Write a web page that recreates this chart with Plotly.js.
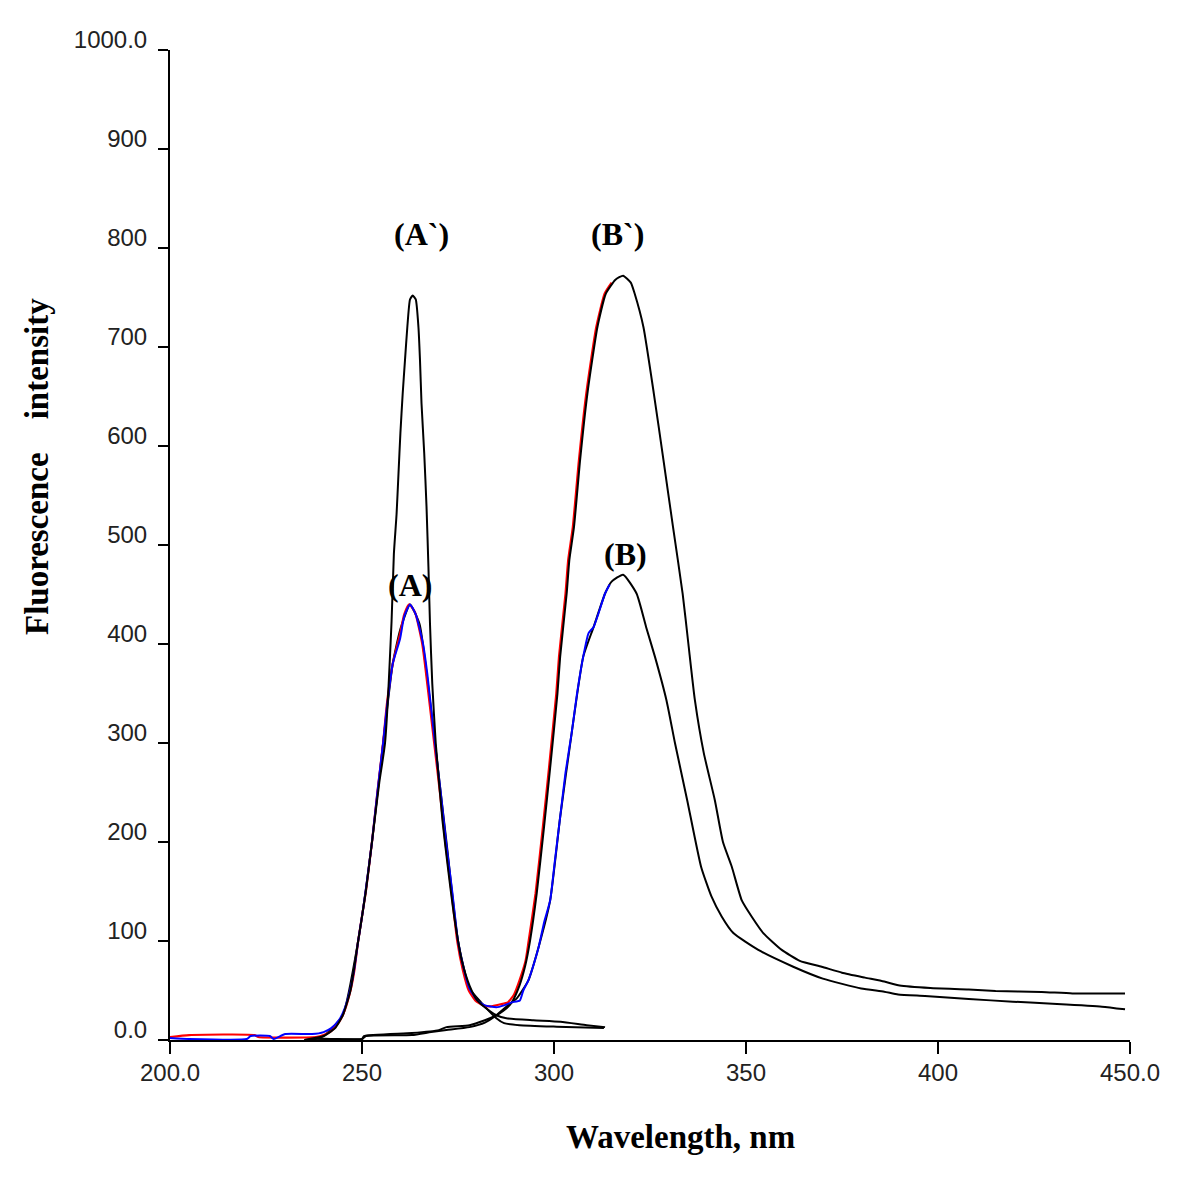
<!DOCTYPE html>
<html>
<head>
<meta charset="utf-8">
<script src="https://cdn.plot.ly/plotly-3.0.1.min.js"></script>
<style>html,body{margin:0;padding:0;background:#fff;}#chart{width:1200px;height:1179px;}</style>
</head>
<body>
<div id="chart"></div>
<script>
// Red measured spectrum (mixture with B`)
const redX = [200,205,222,223,238,240,242,244,245.5,247,248,249,250,251,252.6,254,255.5,256.5,258,259.9,261,262.3,263.8,265.7,267.3,268.8,270.3,271.7,273.3,274.8,276.3,277.8,279.5,281.5,283.5,286,288,289.6,291,292.6,293.4,295.2,297.1,298.7,300.6,301.3,303,303.7,304.9,306.5,308.4,311,313.2,315];
const redY = [3,5,5,3,3,5,9,18,30,50,70,100,125,150,200,250,300,340,380,410,430,440,432,400,350,300,250,200,150,100,70,50,40,35,34,36,38,46,60,80,100,148,215,275,350,387,451,485,518,586,653,720,754,765];

// Blue measured spectrum (mixture with B)
const blueX = [200,205,220,221,226,227,230,237,240,242,244,245.5,247,248,249,250.2,251,252.6,254,255.5,256.3,258,259.9,261,262.5,264,265.9,267,269,270.5,271.9,273.5,275,276.5,278,280,282,285,287,289,291.1,292,293.3,295,296,297.5,299,300.2,301.6,303,304.6,306,307.6,309,310.3,311.5,313.3,314.5];
const blueY = [2,1,1,4,4,1,6,6,8,12,20,32,52,72,100,130,152,200,250,300,330,380,405,428,440,430,400,370,300,250,200,150,100,72,52,40,35,33,35,38,40,50,60,80,94,120,141,180,225,270,310,350,387,411,417,430,451,460];

// Black reference spectrum A
const aX = [235,240,245,249,252.6,255.5,258,260,262.5,265,267,269,272,275,278,281,285,287,291,300.7,313];
const aY = [0,4,25,100,200,300,380,415,440,420,365,300,200,100,52,38,22,17,15,13.5,12];

// Black reference spectrum A`
const apX = [235,240,243,245,247,249,251,252.6,254.5,256,257.7,258.3,259,259.5,260,260.6,261.2,261.8,262.5,263.2,264,264.7,265.1,265.5,266.2,266.8,267.3,267.7,268.3,269.2,271,272.5,274,276,278,280,283,285,287.6,294.6,301.7,308.5,313.3];
const apY = [0,4,12,25,50,100,150,200,260,300,423,491,531,572,613,653,687,720,748,752,748,720,687,643,593,539,478,421,360,300,220,170,125,80,55,40,30,25,22,20,18.5,15,13];

// Black reference spectrum B`
const bpX = [233,236.5,237,250,250.5,263,270,272,278,282,285,287,289,291,292.5,293.75,295.5,297.4,299,300.9,301.6,303.3,304,305.2,306.8,308.7,311.3,313.5,316,318,320,321,323.3,326,328.5,331,333.5,335,336.7,339,341.9,344,346.3,348.9,351.5,354.5,359.3,364,369.7,375,381,386,390,398,408,415,427,435,448.7];
const bpY = [-1,-1,1,1,4,7,10,13,15,20,25,30,38,55,75,100,148,215,275,350,387,451,485,518,586,653,720,754,768,772,765,754,720,653,586,518,451,400,343,290,242,200,175,141,124.5,108,91,80,74,68,63,59,55,52.5,51,49.5,48.5,47,47];

// Black reference spectrum B
const bX = [233,236.5,237,250,251,263,268,272,278,282,285,288,290.3,293.3,296,299,301.6,304.6,307.6,310.3,313.3,315,318,321.5,324,326.3,329.3,331.5,334.7,338.3,341,343.7,346.7,353.2,362.3,370,380,386,389.6,396.6,408,419.5,431,442.7,448.7];
const bY = [-1,-1,1,1,4,5,8,10,13,17.5,25,35,42,60,94,141,225,310,387,417,451,463,470,451,417,387,343,300,242,175,145,124.5,108,91,74,62,52,48.8,46,44.4,41.4,38.7,36.4,33.7,31];

// Tick labels
const xTickVals = [200,250,300,350,400,450];
const xTickText = ["200.0","250","300","350","400","450.0"];
const yTickVals = [0,100,200,300,400,500,600,700,800,900,1000];
const yTickText = ["0.0","100","200","300","400","500","600","700","800","900","1000.0"];

// Peak labels
const peakLabels = ["(A`)","(B`)","(B)","(A)"];
const peakLabelX = [265.6,316.5,318.5,262.6];
const peakLabelY = [814,814,491,460];

const mk = (x, y, color, w) => ({x: x, y: y, type: 'scatter', mode: 'lines',
  line: {color: color, width: w, shape: 'spline', smoothing: 0.5}, hoverinfo: 'skip', showlegend: false});

const data = [
  mk(aX, aY, '#000000', 2),
  mk(redX, redY, '#ff0000', 2.2),
  mk(bpX, bpY, '#000000', 2),
  mk(bX, bY, '#000000', 2),
  mk(blueX, blueY, '#0000ff', 2),
  mk(apX, apY, '#000000', 2)
];

const annFont = {family: 'Liberation Serif, Times New Roman, serif', size: 32, color: '#000'};
const annotations = peakLabels.map((t, i) => ({
  x: peakLabelX[i], y: peakLabelY[i], xref: 'x', yref: 'y', text: '<b>' + t + '</b>',
  showarrow: false, xanchor: 'center', yanchor: 'middle', font: annFont
}));
annotations.push({
  xref: 'paper', yref: 'paper', x: -0.1385, y: 0.5788, xanchor: 'center', yanchor: 'middle',
  textangle: -90, showarrow: false,
  text: '<b>Fluorescence\u00a0\u00a0\u00a0\u00a0intensity</b>',
  font: {family: 'Liberation Serif, Times New Roman, serif', size: 33, color: '#000'}
});
annotations.push({
  xref: 'paper', yref: 'paper', x: 0.532, y: -0.098, xanchor: 'center', yanchor: 'middle',
  showarrow: false, text: '<b>Wavelength, nm</b>',
  font: {family: 'Liberation Serif, Times New Roman, serif', size: 33, color: '#000'}
});

const tickFont = {family: 'Liberation Sans, Arial, sans-serif', size: 24, color: '#222'};

const layout = {
  width: 1200, height: 1179,
  margin: {l: 170, r: 70, t: 50, b: 139},
  paper_bgcolor: '#ffffff', plot_bgcolor: '#ffffff',
  showlegend: false,
  xaxis: {
    range: [200, 450], showgrid: false, zeroline: false,
    showline: true, linecolor: '#000', linewidth: 2,
    ticks: 'outside', ticklen: 12, tickwidth: 1.5, tickcolor: '#000',
    tickvals: xTickVals, ticktext: xTickText, tickfont: tickFont,
    ticklabelstandoff: -2
  },
  yaxis: {
    range: [0, 1000], showgrid: false, zeroline: false,
    showline: true, linecolor: '#000', linewidth: 2,
    ticks: 'outside', ticklen: 10, tickwidth: 1.5, tickcolor: '#000',
    tickvals: yTickVals, ticktext: yTickText, tickfont: tickFont,
    ticklabelstandoff: 6, ticklabelshift: -10
  },
  annotations: annotations
};

Plotly.newPlot('chart', data, layout, {staticPlot: true, displayModeBar: false});
</script>
</body>
</html>
